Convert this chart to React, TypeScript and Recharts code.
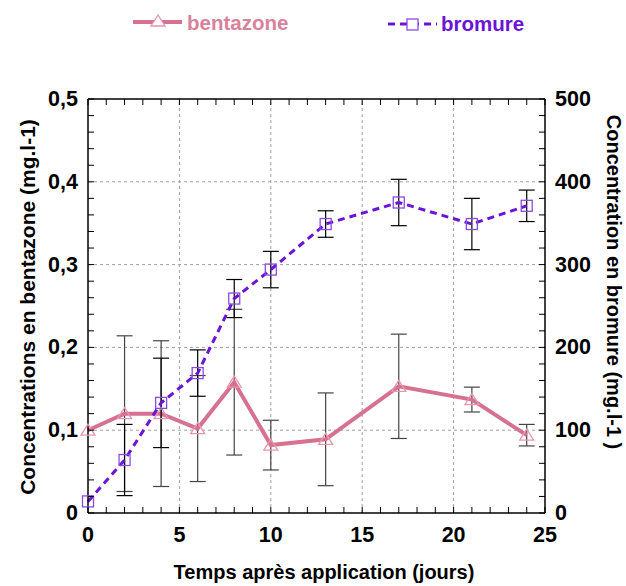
import { ComposedChart, Line, XAxis, YAxis, ErrorBar, ReferenceLine } from "recharts";

const days = [0, 2, 4, 6, 8, 10, 13, 17, 21, 24];
const bentazone = [0.1, 0.12, 0.12, 0.102, 0.158, 0.082, 0.089, 0.153, 0.137, 0.094];
const bentazoneErr = [null, 0.094, 0.088, 0.064, 0.088, 0.03, 0.056, 0.063, 0.015, 0.013];
const bromure = [14, 64, 133, 169, 259, 294, 349, 375, 349, 371];
const bromureErr = [null, 43, 54, 28, 23, 22, 16, 28, 31, 19];

const xTicks = Array.from({ length: 26 }, (_, i) => i);
const leftTicks = Array.from({ length: 26 }, (_, i) => i * 0.02);
const rightTicks = Array.from({ length: 26 }, (_, i) => i * 20);
const xGrid = [5, 10, 15, 20];
const yGrid = [0.1, 0.2, 0.3, 0.4];

const data = days.map((d, i) => ({
  day: d,
  bentazone: bentazone[i],
  bentazoneErr: bentazoneErr[i],
  bromure: bromure[i],
  bromureErr: bromureErr[i],
}));

const PINK = "#d6728f";
const PURPLE = "#6a14d8";
const FONT = '"Liberation Sans", Arial, sans-serif';
const TICK = 6;
const TICK_FONT = 21.5;

const isMajor = (v: number, step: number) => Math.abs(v / step - Math.round(v / step)) < 1e-6;

const leftLabel = (v: number) => (v < 1e-9 ? "0" : v.toFixed(1).replace(".", ","));

const BottomTick = ({ x, y, payload }: any) => (
  <g>
    <line x1={x} y1={y} x2={x} y2={y - TICK} stroke="#000" strokeWidth={1} />
    {isMajor(payload.value, 5) && (
      <text x={x} y={y + 29} textAnchor="middle" fontSize={TICK_FONT} fontWeight="bold" fill="#000" fontFamily={FONT}>
        {payload.value}
      </text>
    )}
  </g>
);

const TopTick = ({ x, y }: any) => (
  <line x1={x} y1={y} x2={x} y2={y + TICK} stroke="#000" strokeWidth={1} />
);

const LeftTick = ({ x, y, payload }: any) => (
  <g>
    <line x1={x} y1={y} x2={x + TICK} y2={y} stroke="#000" strokeWidth={1} />
    {isMajor(payload.value, 0.1) && (
      <text x={x - 10} y={y + 7} textAnchor="end" fontSize={TICK_FONT} fontWeight="bold" fill="#000" fontFamily={FONT}>
        {leftLabel(payload.value)}
      </text>
    )}
  </g>
);

const RightTick = ({ x, y, payload }: any) => (
  <g>
    <line x1={x} y1={y} x2={x - TICK} y2={y} stroke="#000" strokeWidth={1} />
    {isMajor(payload.value, 100) && (
      <text x={x + 10} y={y + 7} textAnchor="start" fontSize={TICK_FONT} fontWeight="bold" fill="#000" fontFamily={FONT}>
        {Math.round(payload.value)}
      </text>
    )}
  </g>
);

const TriangleDot = ({ cx, cy, index }: any) => (
  <polygon
    key={`t${index}`}
    points={`${cx},${cy - 6} ${cx - 7},${cy + 5} ${cx + 7},${cy + 5}`}
    fill="none"
    stroke="#e896ae"
    strokeWidth={1.3}
  />
);

const SquareDot = ({ cx, cy, index }: any) => (
  <rect
    key={`s${index}`}
    x={cx - 5.5}
    y={cy - 5.5}
    width={11}
    height={11}
    fill="none"
    stroke="#8a4be0"
    strokeWidth={1.3}
  />
);

export default function App() {
  return (
    <div style={{ position: "absolute", left: 0, top: 0, width: 626, height: 586, background: "#fff" }}>
      <ComposedChart width={626} height={586} data={data} margin={{ top: 89, right: 21, bottom: 33, left: 28 }}>
        <XAxis
          xAxisId="b"
          dataKey="day"
          type="number"
          domain={[0, 25]}
          ticks={xTicks}
          interval={0}
          height={40}
          tickSize={0}
          tickMargin={0}
          tickLine={false}
          axisLine={{ stroke: "#000", strokeWidth: 1.5 }}
          tick={<BottomTick />}
        />
        <XAxis
          xAxisId="t"
          orientation="top"
          dataKey="day"
          type="number"
          domain={[0, 25]}
          ticks={xTicks}
          interval={0}
          height={10}
          tickSize={0}
          tickMargin={0}
          tickLine={false}
          axisLine={{ stroke: "#000", strokeWidth: 1.5 }}
          tick={<TopTick />}
        />
        <YAxis
          yAxisId="l"
          type="number"
          domain={[0, 0.5]}
          ticks={leftTicks}
          interval={0}
          width={60}
          tickSize={0}
          tickMargin={0}
          tickLine={false}
          axisLine={{ stroke: "#000", strokeWidth: 1.5 }}
          tick={<LeftTick />}
        />
        <YAxis
          yAxisId="r"
          orientation="right"
          type="number"
          domain={[0, 500]}
          ticks={rightTicks}
          interval={0}
          width={60}
          tickSize={0}
          tickMargin={0}
          tickLine={false}
          axisLine={{ stroke: "#000", strokeWidth: 1.5 }}
          tick={<RightTick />}
        />
        {xGrid.map((v) => (
          <ReferenceLine key={`gx${v}`} x={v} xAxisId="b" yAxisId="l" stroke="#a0a0a0" strokeDasharray="3 3" />
        ))}
        {yGrid.map((v) => (
          <ReferenceLine key={`gy${v}`} y={v} xAxisId="b" yAxisId="l" stroke="#a0a0a0" strokeDasharray="3 3" />
        ))}
        <Line
          xAxisId="b"
          yAxisId="l"
          dataKey="bentazone"
          stroke={PINK}
          strokeWidth={4}
          dot={(p: any) => <TriangleDot key={`tb${p.index}`} {...p} />}
          isAnimationActive={false}
        >
          <ErrorBar dataKey="bentazoneErr" direction="y" width={8} stroke="#444" strokeWidth={1.2} />
        </Line>
        <Line
          xAxisId="b"
          yAxisId="r"
          dataKey="bromure"
          stroke={PURPLE}
          strokeWidth={3}
          strokeDasharray="7 5"
          dot={(p: any) => <SquareDot key={`sb${p.index}`} {...p} />}
          isAnimationActive={false}
        >
          <ErrorBar dataKey="bromureErr" direction="y" width={8} stroke="#000" strokeWidth={1.2} />
        </Line>
      </ComposedChart>
      <svg
        width={626}
        height={586}
        style={{ position: "absolute", left: 0, top: 0, pointerEvents: "none" }}
        fontFamily={FONT}
        fontWeight="bold"
      >
        <line x1={133} y1={22} x2={182} y2={22} stroke={PINK} strokeWidth={4} />
        <polygon points="158,15 151,26 165,26" fill="#fff" stroke="#e896ae" strokeWidth={1.3} />
        <text x={187} y={30} fontSize={20.5} fill="#d9819b">
          bentazone
        </text>
        <line x1={388} y1={24} x2={437} y2={24} stroke={PURPLE} strokeWidth={3} strokeDasharray="7 5" />
        <rect x={407} y={19} width={11} height={11} fill="#fff" stroke="#8a4be0" strokeWidth={1.3} />
        <text x={441} y={31} fontSize={20.5} fill={PURPLE}>
          bromure
        </text>
        <text x={324} y={579} fontSize={20} textAnchor="middle" fill="#000">
          Temps après application (jours)
        </text>
        <text
          x={0}
          y={0}
          fontSize={21}
          textAnchor="middle"
          dominantBaseline="central"
          fill="#000"
          transform="translate(27 307) rotate(-90)"
        >
          Concentrations en bentazone (mg.l-1)
        </text>
        <text
          x={0}
          y={0}
          fontSize={20}
          textAnchor="middle"
          dominantBaseline="central"
          fill="#000"
          transform="translate(614 282) rotate(90)"
        >
          Concentration en bromure (mg.l-1 )
        </text>
      </svg>
    </div>
  );
}
